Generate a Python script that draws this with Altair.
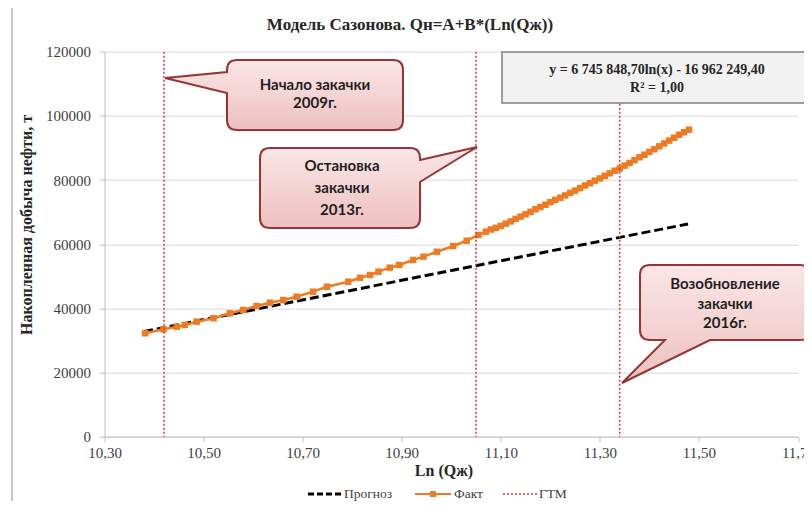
import altair as alt
import pandas as pd

# ---------------- data ----------------
fact_x = [10.382, 10.419, 10.446, 10.462, 10.486, 10.520, 10.553, 10.580, 10.607, 10.634,
          10.661, 10.688, 10.721, 10.749, 10.792, 10.816, 10.836, 10.853, 10.876, 10.895,
          10.923, 10.944, 10.971, 11.004, 11.031, 11.055, 11.070, 11.080,
          11.09, 11.10, 11.11, 11.12, 11.13, 11.14, 11.15, 11.16, 11.17, 11.18,
          11.19, 11.20, 11.21, 11.22, 11.23, 11.24, 11.25, 11.26, 11.27, 11.28,
          11.29, 11.30, 11.31, 11.32, 11.33, 11.34, 11.35, 11.36, 11.37, 11.38,
          11.39, 11.40, 11.41, 11.42, 11.43, 11.44, 11.45, 11.46, 11.47, 11.48]
fact_y = [32230, 33480, 34290, 34820, 35850, 36910, 38460, 39490, 40740, 41770,
          42610, 43640, 45200, 46750, 48310, 49560, 50400, 51430, 52680, 53520,
          55080, 56110, 57660, 59440, 61090, 62870, 63900, 64600,
          65100, 65700, 66400, 67100, 67900, 68600, 69300, 70100, 70900, 71600,
          72300, 73100, 73800, 74500, 75200, 76000, 76700, 77500, 78300, 79000,
          79800, 80500, 81300, 82100, 82900, 83600, 84500, 85300, 86200, 87100,
          87900, 88800, 89600, 90500, 91400, 92300, 93200, 94100, 94900, 95700]
forecast_x = [10.380, 10.735, 11.092, 11.478]
forecast_y = [32800, 43700, 54600, 66300]
gtm_x = [10.42, 11.05, 11.34]
x_ticks = [10.3, 10.5, 10.7, 10.9, 11.1, 11.3, 11.5, 11.7]
y_ticks = [0, 20000, 40000, 60000, 80000, 100000, 120000]

chart_title = "Модель Сазонова. Qн=A+B*(Ln(Qж))"
x_title = "Ln (Qж)"
y_title = "Накопленная добыча нефти, т"
equation_lines = ["y = 6 745 848,70ln(x) - 16 962 249,40", "R² = 1,00"]
legend_labels = ["Прогноз", "Факт", "ГТМ"]
callout_texts = [["Начало закачки", "2009г."],
                 ["Остановка", "закачки", "2013г."],
                 ["Возобновление", "закачки", "2016г."]]

# ---------------- layout helpers ----------------
W, H = 693.5, 385
OX, OY = 104.5, 51.7          # page position of plot origin


def vx(px):
    return px - OX


def vy(py):
    return py - OY


ORANGE = "#EE7B22"
RED = "#E0303A"
SERIF = "Liberation Serif"
GREY_TXT = "#404040"

fact_df = pd.DataFrame({"x": fact_x, "y": fact_y})
fc_df = pd.DataFrame({"x": forecast_x, "y": forecast_y})
gtm_df = pd.DataFrame({"x": gtm_x})

X = alt.X("x:Q", scale=alt.Scale(domain=[10.3, 11.7], nice=False, zero=False),
          axis=alt.Axis(values=x_ticks, title=None, grid=False,
                        labelExpr="replace(format(datum.value, '.2f'), '.', ',')",
                        domainColor="#BFBFBF", tickColor="#BFBFBF", tickSize=5,
                        labelFont=SERIF, labelFontSize=15, labelColor=GREY_TXT,
                        labelPadding=4, labelFlush=False, labelOverlap=False))
Y = alt.Y("y:Q", scale=alt.Scale(domain=[0, 120000], nice=False),
          axis=alt.Axis(values=y_ticks, format="d", title=None, grid=True,
                        gridColor="#D9D9D9", domainColor="#BFBFBF", tickColor="#BFBFBF",
                        tickSize=5, labelFont=SERIF, labelFontSize=15, labelColor=GREY_TXT,
                        labelPadding=9, labelOverlap=False))

blank = alt.Data(values=[{}])

layers = []

# chart frame
layers.append(alt.Chart(blank).mark_rect(fillOpacity=0, stroke="#A6A6A6", strokeWidth=1.2).encode(
    x=alt.value(vx(12)), x2=alt.value(vx(1000)), y=alt.value(vy(7)), y2=alt.value(vy(800))))

# forecast
layers.append(alt.Chart(fc_df).mark_line(color="black", strokeWidth=3, strokeDash=[9, 4]).encode(x=X, y=Y))

# fact
layers.append(alt.Chart(fact_df).mark_line(
    color=ORANGE, strokeWidth=2.5,
    point=alt.OverlayMarkDef(shape="square", size=42, filled=True, color=ORANGE, opacity=1)
).encode(x=X, y=Y))

# GTM lines
layers.append(alt.Chart(gtm_df).mark_rule(color=RED, strokeWidth=1.5, strokeDash=[2, 2]).encode(
    x=alt.X("x:Q")))

# equation box
layers.append(alt.Chart(blank).mark_rect(fill="#F2F2F2", stroke="#808080", strokeWidth=1.5).encode(
    x=alt.value(vx(502)), x2=alt.value(vx(808)), y=alt.value(vy(52)), y2=alt.value(vy(103))))
for line, py in zip(equation_lines, [70, 88]):
    layers.append(alt.Chart(blank).mark_text(font=SERIF, fontSize=14, fontWeight="bold",
                                             color="#262626", align="center", baseline="middle").encode(
        x=alt.value(vx(657)), y=alt.value(vy(py)), text=alt.value(line)))

# callouts (rounded box + pointer) as custom symbol paths, size=4 -> 1 unit = 1 px
GRAD = alt.Gradient(gradient="linear", x1=0, x2=0, y1=0, y2=1,
                    stops=[alt.GradientStop(offset=0, color="#FBE6E6"),
                           alt.GradientStop(offset=1, color="#EDC0C0")])


def callout_path(w, h, r, side, a, b, tx, ty):
    if side == "left":
        return (f"M{r},0 L{w - r},0 Q{w},0 {w},{r} L{w},{h - r} Q{w},{h} {w - r},{h} "
                f"L{r},{h} Q0,{h} 0,{h - r} L0,{b} L{tx},{ty} L0,{a} L0,{r} Q0,0 {r},0 Z")
    if side == "right":
        return (f"M{r},0 L{w - r},0 Q{w},0 {w},{r} L{w},{a} L{tx},{ty} L{w},{b} L{w},{h - r} "
                f"Q{w},{h} {w - r},{h} L{r},{h} Q0,{h} 0,{h - r} L0,{r} Q0,0 {r},0 Z")
    return (f"M{r},0 L{w - r},0 Q{w},0 {w},{r} L{w},{h - r} Q{w},{h} {w - r},{h} "
            f"L{b},{h} L{tx},{ty} L{a},{h} L{r},{h} Q0,{h} 0,{h - r} L0,{r} Q0,0 {r},0 Z")


callouts = [
    # x0, y0, w, h, side, a, b, tip_x, tip_y, text center x, first line y, line step
    (227, 60, 176, 70, "left", 12, 33, 165, 78, 315, 85, 18),
    (260, 148, 160, 80, "right", 12, 34, 477, 147, 342, 166, 22),
    (640, 265, 170, 75, "bottom", 25, 70, 622, 383, 725, 284, 19.5),
]
for (x0, y0, w, h, side, a, b, tx, ty, cx, ly, step), lines in zip(callouts, callout_texts):
    path = callout_path(w, h, 10, side, a, b, tx - x0, ty - y0)
    layers.append(alt.Chart(blank).mark_point(shape=path, size=4, filled=True, fill=GRAD,
                                              stroke="#943634", strokeWidth=2, opacity=1,
                                              fillOpacity=1, strokeOpacity=1).encode(
        x=alt.value(vx(x0)), y=alt.value(vy(y0))))
    for i, t in enumerate(lines):
        layers.append(alt.Chart(blank).mark_text(font="Lato", fontSize=15, fontWeight="bold",
                                                 color="#1F1F1F", align="center", baseline="middle").encode(
            x=alt.value(vx(cx)), y=alt.value(vy(ly + i * step)), text=alt.value(t)))

# titles
layers.append(alt.Chart(blank).mark_text(font=SERIF, fontSize=17, fontWeight="bold", color="#262626",
                                         align="center", baseline="middle").encode(
    x=alt.value(vx(410)), y=alt.value(vy(25)), text=alt.value(chart_title)))
layers.append(alt.Chart(blank).mark_text(font=SERIF, fontSize=16, fontWeight="bold", color="#262626",
                                         align="center", baseline="middle", angle=270).encode(
    x=alt.value(vx(27)), y=alt.value(vy(225)), text=alt.value(y_title)))
layers.append(alt.Chart(blank).mark_text(font=SERIF, fontSize=16, fontWeight="bold", color="#262626",
                                         align="center", baseline="middle").encode(
    x=alt.value(vx(444)), y=alt.value(vy(471)), text=alt.value(x_title)))

# legend
LY = 494
layers.append(alt.Chart(blank).mark_rule(color="black", strokeWidth=3, strokeDash=[6, 3]).encode(
    x=alt.value(vx(308)), x2=alt.value(vx(341)), y=alt.value(vy(LY))))
layers.append(alt.Chart(blank).mark_rule(color=ORANGE, strokeWidth=2).encode(
    x=alt.value(vx(415)), x2=alt.value(vx(451)), y=alt.value(vy(LY))))
layers.append(alt.Chart(blank).mark_point(shape="square", size=36, filled=True, color=ORANGE, opacity=1).encode(
    x=alt.value(vx(433)), y=alt.value(vy(LY))))
layers.append(alt.Chart(blank).mark_rule(color=RED, strokeWidth=1.5, strokeDash=[2, 2]).encode(
    x=alt.value(vx(503)), x2=alt.value(vx(537)), y=alt.value(vy(LY))))
for t, px in zip(legend_labels, [344, 454, 539]):
    layers.append(alt.Chart(blank).mark_text(font=SERIF, fontSize=13.5, color=GREY_TXT,
                                             align="left", baseline="middle").encode(
        x=alt.value(vx(px)), y=alt.value(vy(LY)), text=alt.value(t)))

chart = alt.layer(*layers).properties(
    width=W, height=H,
    padding={"left": OX - 8, "top": OY - 8, "right": 796 - (OX - 8) - W, "bottom": 493 - (OY - 8) - H},
    autosize=alt.AutoSizeParams(type="none"),
    background="white",
).configure_view(stroke=None)

chart.save("out.html", embed_options={"renderer": "svg", "actions": False})
